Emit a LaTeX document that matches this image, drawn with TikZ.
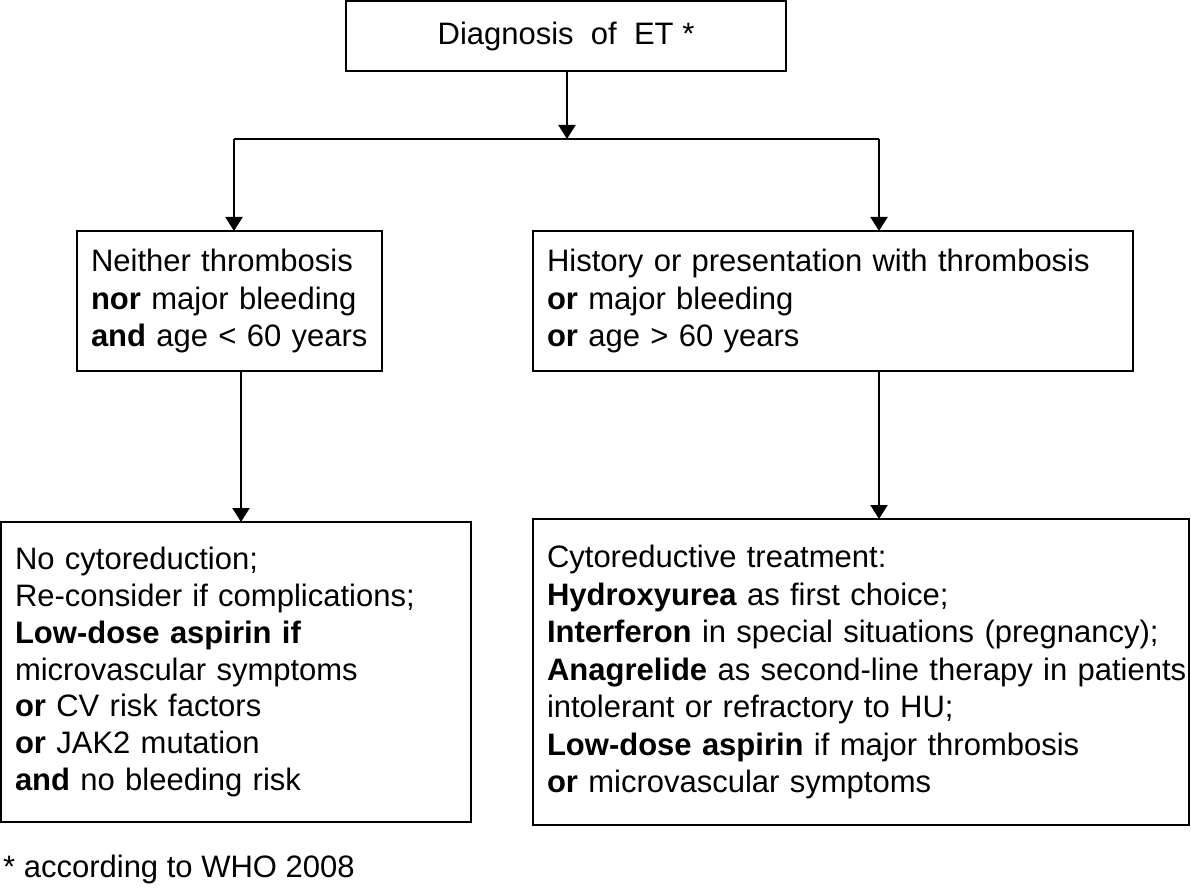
\documentclass[tikz,border=0pt]{standalone}
\usepackage{fontspec}
\setmainfont{Liberation Sans}
\usetikzlibrary{arrows.meta}
\begin{document}
\begin{tikzpicture}[x=1pt,y=-1pt,
  box/.style={draw, line width=2pt, rectangle, align=left, inner xsep=14pt, inner ysep=0pt, outer sep=0pt,
    font=\fontsize{31}{37.5}\selectfont},
  arr/.style={line width=2pt, -{Triangle[width=17pt,length=14pt]}},
  conn/.style={line width=2pt}]
\useasboundingbox (0,0) rectangle (1191,893);
\node[box, align=center, minimum width=440pt, minimum height=70pt] (top) at (566,36) {Diagnosis\ \ of\ \ ET *};
\node[box, minimum width=305pt, minimum height=140pt, text width=277pt] (b1) at (229.5,301)
  {Neither thrombosis\\ \textbf{nor} major bleeding\\ \textbf{and} age < 60 years};
\node[box, minimum width=600pt, minimum height=140pt, text width=572pt] (b2) at (833,301)
  {History or presentation with thrombosis\\ \textbf{or} major bleeding\\ \textbf{or} age > 60 years};
\node[box, minimum width=470pt, minimum height=300pt, text width=442pt, font=\fontsize{31}{36.7}\selectfont] (b3) at (236,672)
  {No cytoreduction;\\ Re-consider if complications;\\ \textbf{Low-dose aspirin if}\\ microvascular symptoms\\ \textbf{or} CV risk factors\\ \textbf{or} JAK2 mutation\\ \textbf{and} no bleeding risk};
\node[box, minimum width=656pt, minimum height=306pt, text width=628pt] (b4) at (861,672)
  {Cytoreductive treatment:\\ \textbf{Hydroxyurea} as first choice;\\ \textbf{Interferon} in special situations (pregnancy);\\ \mbox{\textbf{Anagrelide} as second-line therapy in patients}\\ intolerant or refractory to HU;\\ \textbf{Low-dose aspirin} if major thrombosis\\ \textbf{or} microvascular symptoms};
\node[anchor=base west, inner sep=0pt, font=\fontsize{31}{37.5}\selectfont] (fn) at (3,877) {* according to WHO 2008};
\coordinate (j) at (567,139);
\coordinate (jl) at (234,139);
\coordinate (jr) at (879,139);
\coordinate (al) at (241,0);
\draw[arr] (j |- top.south) -- (j);
\draw[conn] (jl) -- (jr);
\draw[arr] (jl) -- (jl |- b1.north);
\draw[arr] (jr) -- (jr |- b2.north);
\draw[arr] (al |- b1.south) -- (al |- b3.north);
\draw[arr] (jr |- b2.south) -- (jr |- b4.north);
\end{tikzpicture}
\end{document}
